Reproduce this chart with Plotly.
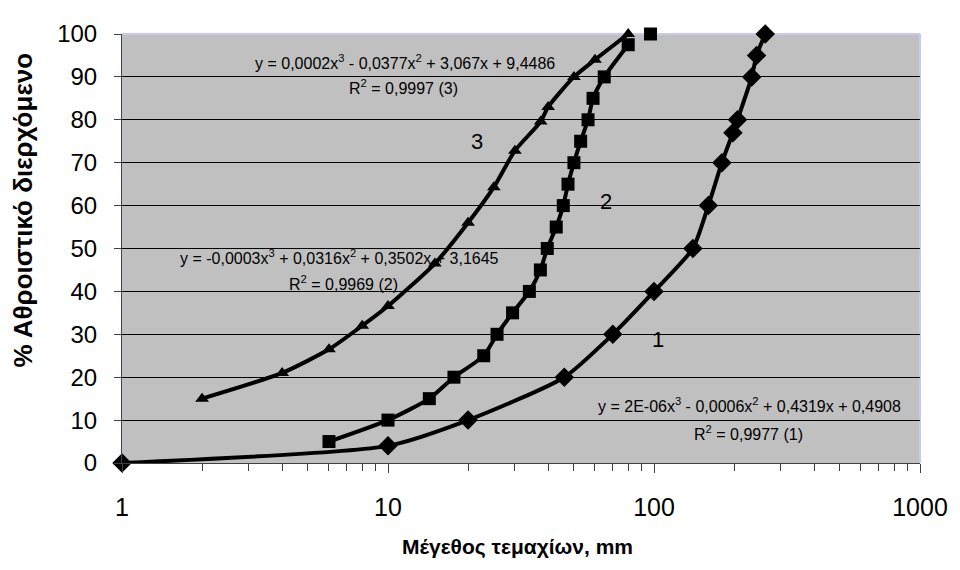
import plotly.graph_objects as go

# Series 1 (diamonds)
s1_x = [1, 10, 20, 46, 70, 100, 140, 160, 180, 198, 206, 233, 243, 262]
s1_y = [0, 4, 10, 20, 30, 40, 50, 60, 70, 77, 80, 90, 95, 100]

# Series 2 (squares)
s2_x = [6, 10, 14.3, 17.7, 22.9, 25.7, 29.4, 34, 37.4, 39.7, 42.9, 45.6, 47.5, 50, 53, 56.5, 59, 65, 80, 97]
s2_y = [5, 10, 15, 20, 25, 30, 35, 40, 45, 50, 55, 60, 65, 70, 75, 80, 85, 90, 97.5, 100]

# Series 3 (triangles)
s3_x = [2, 4, 6, 8, 10, 15, 20, 25, 30, 37.5, 40, 50, 60, 80]
s3_y = [15, 21, 26.5, 32, 36.6, 46.5, 56, 64.3, 72.8, 79.6, 83, 90, 94, 100]

eq1 = "y = 2E-06x<sup>3</sup> - 0,0006x<sup>2</sup> + 0,4319x + 0,4908"
r1 = "R<sup>2</sup> = 0,9977 (1)"
eq2 = "y = -0,0003x<sup>3</sup> + 0,0316x<sup>2</sup> + 0,3502x + 3,1645"
r2 = "R<sup>2</sup> = 0,9969 (2)"
eq3 = "y = 0,0002x<sup>3</sup> - 0,0377x<sup>2</sup> + 3,067x + 9,4486"
r3 = "R<sup>2</sup> = 0,9997 (3)"

x_title = "Μέγεθος τεμαχίων, mm"
y_title = "% Αθροιστικό διερχόμενο"

FONT = "Liberation Sans, Arial, sans-serif"
NARROW = "Liberation Sans Narrow, Arial Narrow, sans-serif"

fig = go.Figure()

series = [
    (s1_x, s1_y, s1_x, s1_y, "diamond", 15),
    (s2_x, s2_y, s2_x[:-1], s2_y[:-1], "square", 13),
    (s3_x, s3_y, s3_x, s3_y, "triangle-up", 12),
]
for mx, my, lx, ly, sym, sz in series:
    fig.add_trace(go.Scatter(x=lx, y=ly, mode="lines",
                             line=dict(color="black", width=4, shape="spline", smoothing=0.6),
                             hoverinfo="skip", cliponaxis=False))
    fig.add_trace(go.Scatter(x=mx, y=my, mode="markers",
                             marker=dict(symbol=sym, size=sz, color="black"),
                             cliponaxis=False))

# target plot-area edges in page pixels (page has an 8px body offset)
OFF = 8
L, R, T, B = 122, 927, 26, 463
W, H = R - L, B - T

def px(xp, yp):
    return (xp - L) / W, (B - yp) / H

annots = [
    (eq3, 407, 55, 16, NARROW), (r3, 406, 80, 16, NARROW),
    (eq2, 341, 253, 16, NARROW), (r2, 345, 280, 16, NARROW),
    (eq1, 755, 404, 16, NARROW), (r1, 754, 432, 16, NARROW),
    ("3", 480, 136, 22, FONT), ("2", 610, 197, 22, FONT), ("1", 663, 337, 22, FONT),
]
for txt, ax_, ay_, fs, fam in annots:
    xp, yp = px(ax_, ay_)
    fig.add_annotation(x=xp, y=yp, xref="paper", yref="paper", text=txt,
                       showarrow=False, xanchor="center", yanchor="middle",
                       font=dict(size=fs, color="black", family=fam))

xp, yp = px(521, 549)
fig.add_annotation(x=xp, y=yp, xref="paper", yref="paper", text="<b>" + x_title + "</b>",
                   showarrow=False, xanchor="center", yanchor="middle",
                   font=dict(size=21, color="black", family=FONT))
xp, yp = px(22, 205)
fig.add_annotation(x=xp, y=yp, xref="paper", yref="paper", text="<b>" + y_title + "</b>",
                   showarrow=False, textangle=-90, xanchor="center", yanchor="middle",
                   font=dict(size=26, color="black", family=FONT))

# lavender border on top and right of plot area
fig.add_shape(type="line", xref="paper", yref="paper", x0=0, x1=1, y0=1, y1=1,
              line=dict(color="#C8C8F4", width=2), layer="below")
fig.add_shape(type="line", xref="paper", yref="paper", x0=1, x1=1, y0=0, y1=1,
              line=dict(color="#C8C8F4", width=2), layer="below")

fig.update_layout(
    width=960 - OFF, height=570 - OFF,
    margin=dict(l=L - OFF, r=960 - R, t=T - OFF, b=570 - B),
    paper_bgcolor="white", plot_bgcolor="#C0C0C0",
    showlegend=False,
    font=dict(family=FONT, color="black", size=20),
)
fig.update_xaxes(type="log", range=[0, 3], dtick=1, showgrid=False,
                 showline=True, linecolor="#404040", linewidth=1,
                 ticks="outside", ticklen=9, tickcolor="#404040",
                 ticklabelstandoff=13,
                 minor=dict(ticks="outside", ticklen=7, dtick="D1", tickcolor="#404040", showgrid=False),
                 tickfont=dict(size=25, family=FONT, color="black"), zeroline=False)
fig.update_yaxes(range=[0, 100], dtick=10, showgrid=True, gridcolor="black", gridwidth=1,
                 showline=True, linecolor="#404060", linewidth=1,
                 ticks="outside", ticklen=7, tickcolor="#404040",
                 ticklabelstandoff=12,
                 tickfont=dict(size=24, family=FONT, color="black"), zeroline=False)

fig.write_html("out.html")
